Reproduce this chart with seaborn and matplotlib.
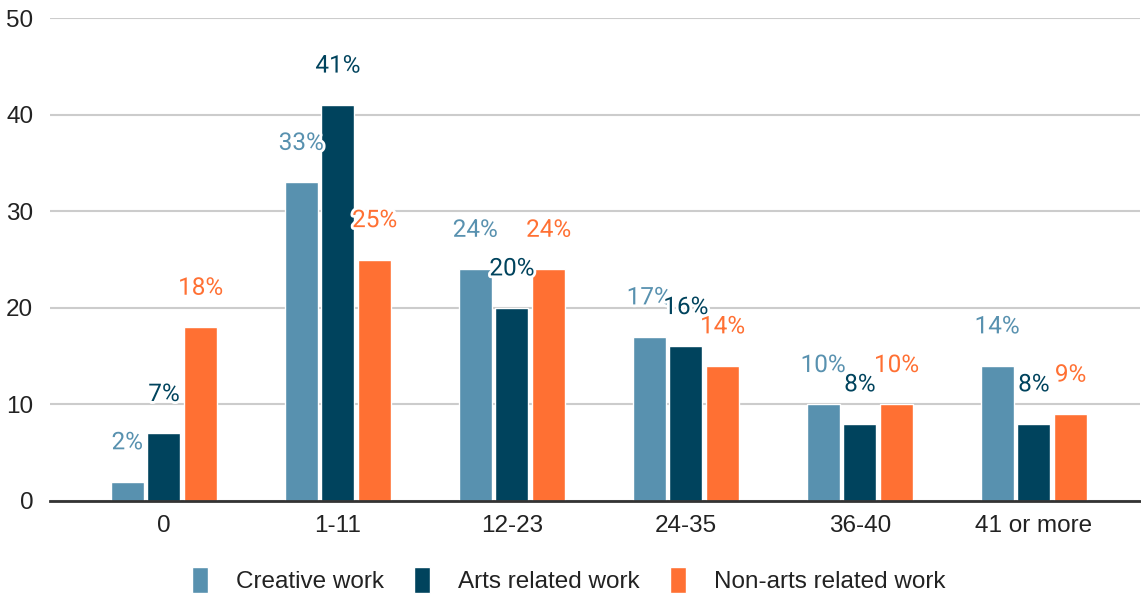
import matplotlib
matplotlib.use("Agg")
import matplotlib.pyplot as plt
import matplotlib.patheffects as pe
import seaborn as sns
import pandas as pd

categories = ["0", "1-11", "12-23", "24-35", "36-40", "41 or more"]
series_names = ["Creative work", "Arts related work", "Non-arts related work"]
creative = [2, 33, 24, 17, 10, 14]
arts = [7, 41, 20, 16, 8, 8]
nonarts = [18, 25, 24, 14, 10, 9]
colors = ["#5891af", "#00435d", "#ff7033"]
yticks = [0, 10, 20, 30, 40, 50]

rows = []
for name, vals in zip(series_names, [creative, arts, nonarts]):
    for c, v in zip(categories, vals):
        rows.append({"cat": c, "series": name, "value": v})
df = pd.DataFrame(rows)

sns.set_theme(style="white")
plt.rcParams["font.family"] = ["Liberation Sans", "DejaVu Sans"]

fig = plt.figure(figsize=(11.41, 5.95), dpi=100)
ax = fig.add_axes([0.0438, 0.158, 0.9553, 0.8117])

sns.barplot(data=df, x="cat", y="value", hue="series", order=categories,
            hue_order=series_names, palette=colors, width=0.633, gap=0.1,
            saturation=1, ax=ax, legend=True, errorbar=None)

ax.set_ylim(0, 50)
ax.set_xlim(-0.655, 5.61)
ax.set_yticks(yticks)
ax.set_yticklabels([str(t) for t in yticks], fontsize=17.5, color="#222222")
ax.tick_params(axis="x", labelsize=17.5, colors="#222222", pad=10, length=0)
ax.tick_params(axis="y", length=0, pad=12)
ax.set_xlabel("")
ax.set_ylabel("")
ax.yaxis.grid(True, color="#cccccc", linewidth=1.5)
ax.set_axisbelow(True)
for s in ["top", "right", "left"]:
    ax.spines[s].set_visible(False)
ax.spines["bottom"].set_color("#333333")
ax.spines["bottom"].set_linewidth(2)
ax.spines["bottom"].set_zorder(5)

for i, cont in enumerate(ax.containers):
    for bar, v in zip(cont, [creative, arts, nonarts][i]):
        x = bar.get_x() + bar.get_width() / 2
        ax.annotate(f"{v}%", (x, bar.get_height()), xytext=(0, 28),
                    textcoords="offset points", ha="center", va="center",
                    fontsize=17.5, color=colors[i], family=["Roboto", "DejaVu Sans"],
                    path_effects=[pe.withStroke(linewidth=4, foreground="white")],
                    zorder=6)

leg = ax.legend(loc="center", bbox_to_anchor=(0.476, -0.164), ncol=3,
                frameon=False, fontsize=17.5, handlelength=0.66, handleheight=1.25,
                handletextpad=1.15, columnspacing=1.25)
for t in leg.get_texts():
    t.set_color("#222222")

fig.savefig("out.png", dpi=100)
